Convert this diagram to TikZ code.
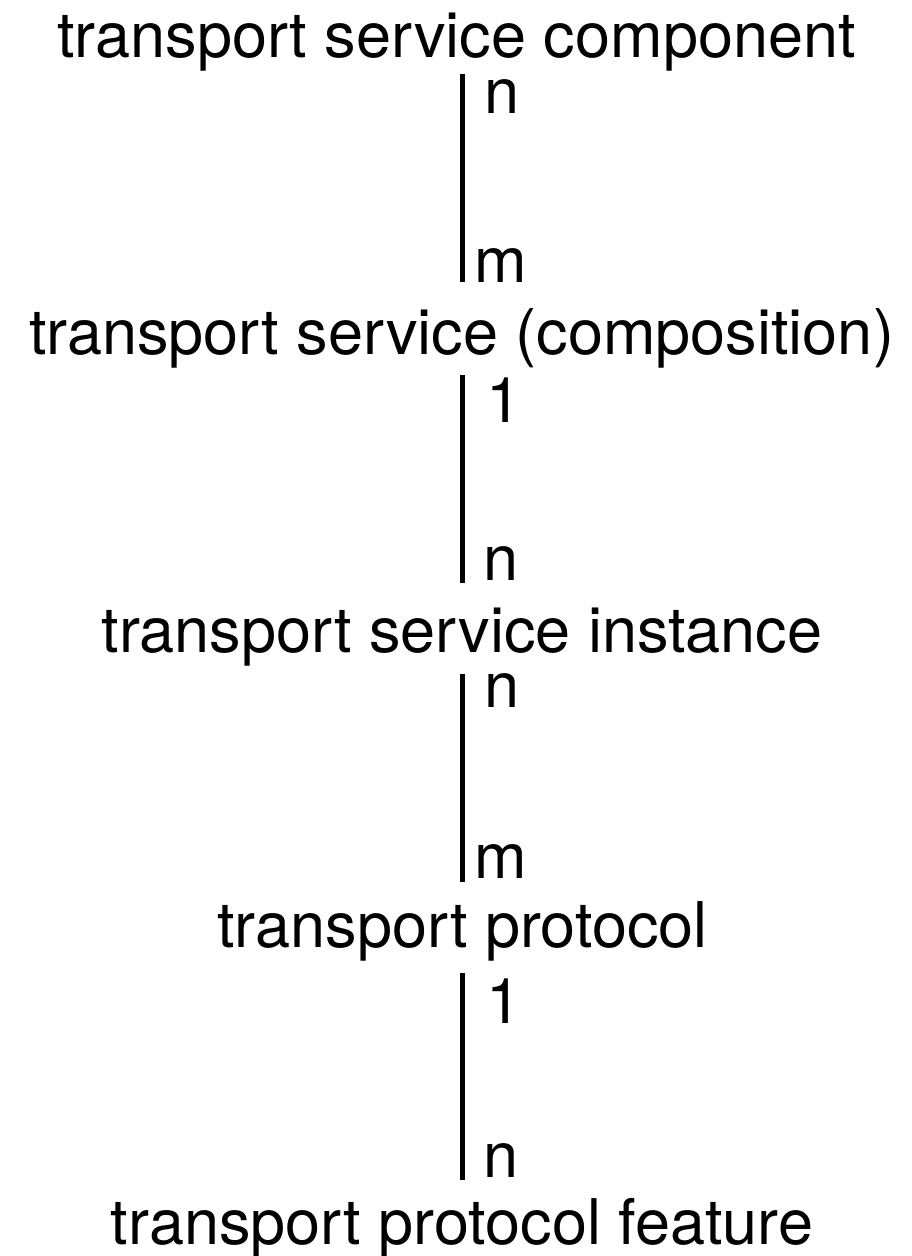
\documentclass[tikz,border=0pt]{standalone}
\usepackage{fontspec}
\setmainfont{TeX Gyre Heros}
\usetikzlibrary{calc}
\begin{document}
\begin{tikzpicture}[x=1pt,y=-1pt,
  term/.style={inner sep=0pt, anchor=base, font=\fontsize{63}{70}\selectfont},
  card/.style={inner sep=0pt, anchor=base west, font=\fontsize{63}{70}\selectfont},
  link/.style={line width=4.8pt, line cap=butt}]
\useasboundingbox (0,0) rectangle (911,1256);
\coordinate (lx) at (462.5,0);
\node[term] (t1) at (456.5,57) {transport service component};
\node[term] (t2) at (461.5,354) {transport service (composition)};
\node[term] (t3) at (462,652) {transport service instance};
\node[term] (t4) at (462.5,947) {transport protocol};
\node[term] (t5) at (462,1244) {transport protocol feature};
\draw[link] ($(t1.base -| lx)+(0,17)$) -- ($(t2.base -| lx)+(0,-72)$);
\draw[link] ($(t2.base -| lx)+(0,21)$) -- ($(t3.base -| lx)+(0,-69)$);
\draw[link] ($(t3.base -| lx)+(0,22)$) -- ($(t4.base -| lx)+(0,-65)$);
\draw[link] ($(t4.base -| lx)+(0,26)$) -- ($(t5.base -| lx)+(0,-64)$);
\node[card] (c1a) at (484,113) {n};
\node[card] (c1b) at (474,282) {m};
\node[card] (c2a) at (486,422) {1};
\node[card] (c2b) at (483,580) {n};
\node[card] (c3a) at (484,707) {n};
\node[card] (c3b) at (474,878) {m};
\node[card] (c4a) at (486,1023) {1};
\node[card] (c4b) at (483,1177) {n};
\end{tikzpicture}
\end{document}
